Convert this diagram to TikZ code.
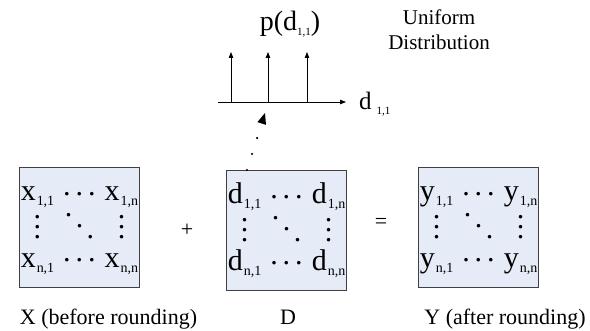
\documentclass[tikz,border=0pt]{standalone}
\usepackage{fontspec}
\setmainfont{Liberation Serif}
\usepackage{xcolor}
\usepackage{tikz}
\usetikzlibrary{arrows.meta, positioning}

\definecolor{fondocaja}{RGB}{229,235,247}

\newcommand{\sbs}[1]{\kern1pt\raisebox{-5pt}{\fontsize{14}{14}\selectfont #1}}
\newcommand{\sbb}[1]{\raisebox{-5pt}{\fontsize{11}{11}\selectfont #1}}
\newcommand{\hdts}{\raisebox{5.3pt}{.}\kern5pt\raisebox{5.3pt}{.}\kern5pt\raisebox{5.3pt}{.}}
\newcommand{\vdts}{\vbox{\baselineskip10pt\lineskiplimit0pt\hbox{.}\hbox{.}\hbox{.}}}
\newcommand{\ddts}{\raisebox{22pt}{.}\kern3.5pt\raisebox{11pt}{.}\kern3.5pt.}
\newcommand{\matriz}[1]{%
    \begin{tabular}{@{}c@{\hspace{9pt}}c@{\hspace{9pt}}c@{}}
        #1\sbs{1,1} & \hdts & #1\sbs{1,n}\\[3.5pt]
        \vdts & \ddts & \vdts\\[-3.5pt]
        #1\sbs{n,1} & \hdts & #1\sbs{n,n}
    \end{tabular}}

\begin{document}
\begin{tikzpicture}[
        x=1pt, y=1pt,
        caja/.style={
            rectangle,
            draw=black!75,
            line width=1pt,
            fill=fondocaja,
            minimum width=120pt,
            minimum height=120pt,
            inner sep=0pt,
            font=\fontsize{30}{32}\selectfont
        },
        rotulo/.style={
            font=\fontsize{22}{25}\selectfont,
            anchor=base,
            inner sep=0pt
        },
        signo/.style={
            font=\fontsize{22}{25}\selectfont,
            inner sep=0pt
        },
        flecha/.style={
            -{Triangle[length=6pt,width=4.5pt]},
            line width=0.8pt
        },
        punteada/.style={
            -{Triangle[length=11pt,width=9pt,line width=0pt]},
            line width=2.4pt,
            line cap=round,
            dash pattern=on 0pt off 16.8pt
        }
    ]

    \useasboundingbox (0,0) rectangle (590,331);

    \node[caja] (X) at (79.5,103.5) {\matriz{x}};

    \node[caja] (D) at (286.5,100.5) {\matriz{d}};

    \node[caja] (Y) at (478.5,103.5) {\matriz{y}};

    \node[signo] (mas) at (187,101) {+};

    \node[signo] (igual) at (381,108) {=};

    \node[rotulo] (rotX) at (108.5,6) {X (before rounding)};

    \node[rotulo] (rotD) at (288,6) {D};

    \node[rotulo] (rotY) at (505,6) {Y (after rounding)};

    \coordinate (ejeini) at (218,229);
    \coordinate (ejefin) at (346,229);

    \draw[flecha] (ejeini) -- (ejefin);

    \foreach \px in {231,268,307}
        \draw[flecha] (\px,229) -- (\px,279);

    \node[anchor=base west, inner sep=0pt, font=\fontsize{25}{25}\selectfont]
        (rotd) at (359,221) {d\kern5pt\sbb{1,1}};

    \node[anchor=base, inner sep=0pt, font=\fontsize{28}{28}\selectfont]
        (prob) at (290,300) {p(d\sbb{1,1})};

    \node[align=center, inner sep=0pt, font=\fontsize{21}{25}\selectfont]
        (unif) at (439,301) {Uniform\\Distribution};

    \coordinate (punta) at (265,218);

    \draw[punteada] ([xshift=-39.5pt]D.north) -- (punta);

\end{tikzpicture}
\end{document}
